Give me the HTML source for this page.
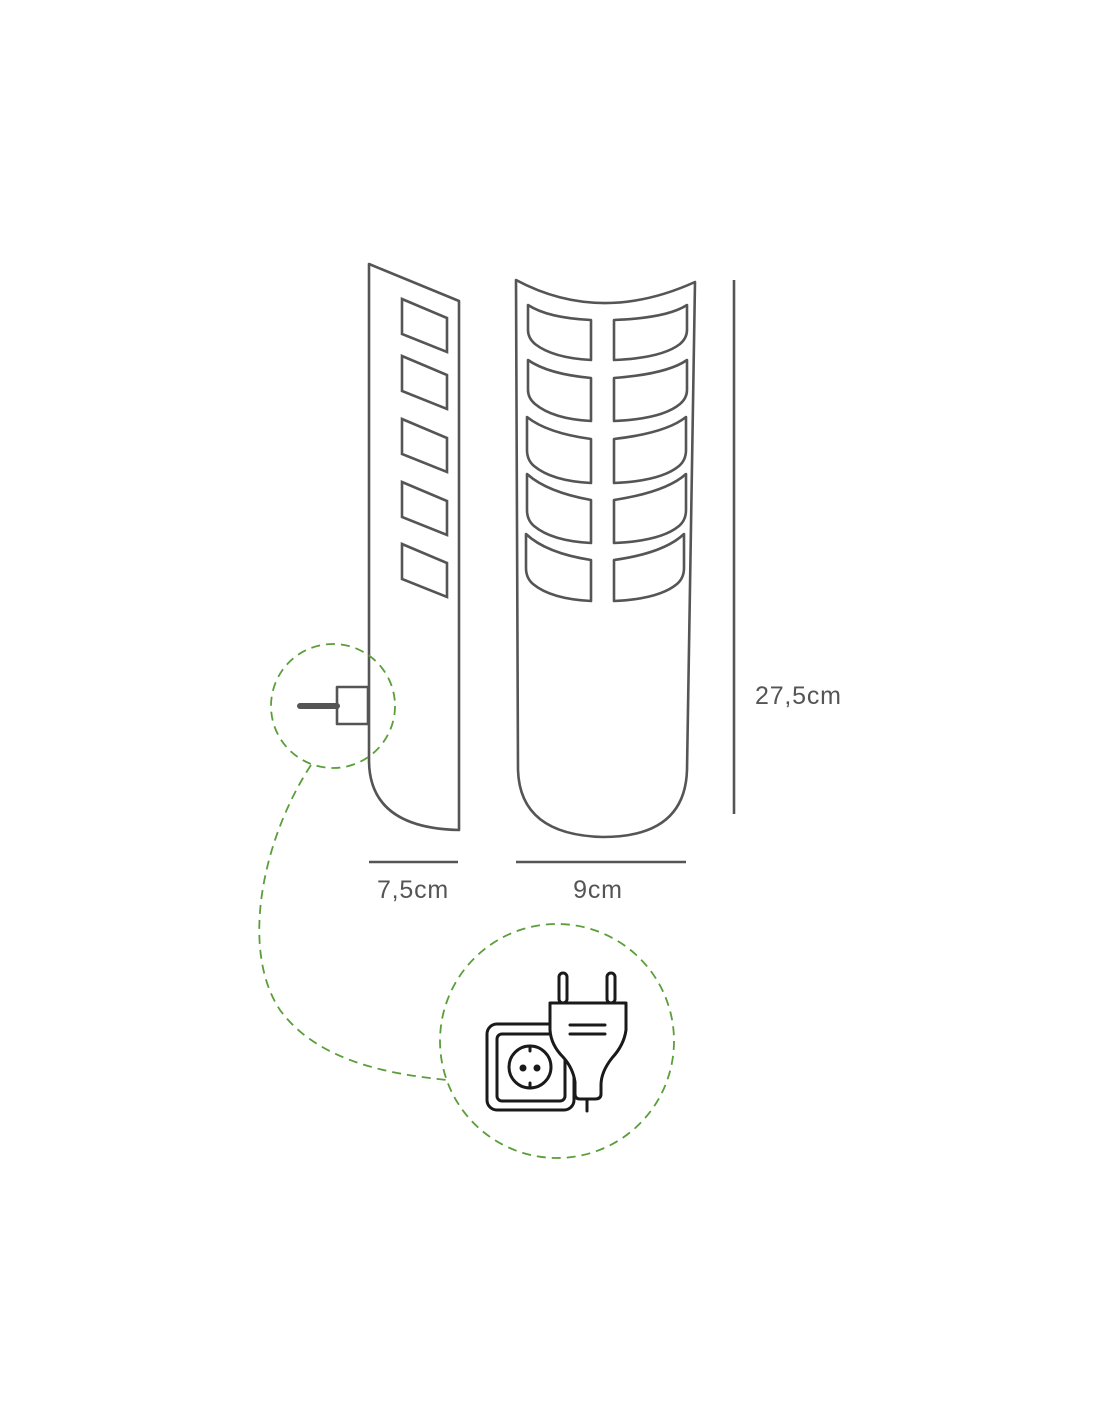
<!DOCTYPE html>
<html><head><meta charset="utf-8"><style>
html,body{margin:0;padding:0;background:#fff;}
svg{display:block}
text{font-family:"Liberation Sans",sans-serif;fill:#555;font-size:25px;letter-spacing:0.8px}
</style></head><body>
<svg width="1100" height="1422" viewBox="0 0 1100 1422" xmlns="http://www.w3.org/2000/svg">
<defs>
<path id="sw" d="M402,299 L447,318 L447,352 L402,334 Z" fill="none" stroke="#555" stroke-width="2.6"/>
</defs>
<g fill="none" stroke="#555" stroke-width="2.6" stroke-linejoin="round">
<path d="M369,264 L459,301 L459,830 Q369,828 369,760 Z"/>
<path d="M516,280 Q600,325 695,282 L687,770 Q685,837 603,837 Q520,835 518,770 Z"/>
<rect x="337" y="687" width="31" height="37" fill="#fff"/>
<line x1="734" y1="280" x2="734" y2="814"/>
<line x1="369" y1="862" x2="458" y2="862"/>
<line x1="516" y1="862" x2="686" y2="862"/>
<!-- windows -->
<path d="M528,305 Q548,318 591,320 L591,360 Q553,358 535,344 Q528,338 528,330 Z"/>
<path d="M687,305 Q667,318 614,320 L614,360 Q662,358 680,344 Q687,338 687,330 Z"/>
<path d="M528,360 Q548,374 591,378 L591,421 Q553,419 535,404 Q528,398 528,390 Z"/>
<path d="M687,360 Q667,374 614,378 L614,421 Q662,419 680,404 Q687,398 687,390 Z"/>
<path d="M527,417 Q547,433 591,439 L591,483 Q552,481 534,466 Q527,460 527,450 Z"/>
<path d="M686,417 Q666,433 614,439 L614,483 Q661,481 679,466 Q686,460 686,450 Z"/>
<path d="M527,474 Q547,492 591,500 L591,543 Q552,541 534,526 Q527,520 527,510 Z"/>
<path d="M686,474 Q666,492 614,500 L614,543 Q661,541 679,526 Q686,520 686,510 Z"/>
<path d="M526,534 Q546,553 591,560 L591,601 Q551,599 533,584 Q526,578 526,568 Z"/>
<path d="M684,534 Q664,553 614,560 L614,601 Q659,599 677,584 Q684,578 684,568 Z"/>
</g>
<line x1="300" y1="706" x2="337" y2="706" stroke="#555" stroke-width="6" stroke-linecap="round"/>
<use href="#sw"/><use href="#sw" y="57"/><use href="#sw" y="120"/><use href="#sw" y="183"/><use href="#sw" y="245"/>
<g fill="none" stroke="#5a9e3a" stroke-width="1.8" stroke-dasharray="9,6">
<circle cx="333" cy="706" r="62"/>
<circle cx="557" cy="1041" r="117"/>
<path d="M311,765 C262,840 240,950 280,1010 C320,1065 400,1075 447,1080"/>
</g>
<text x="755" y="704">27,5cm</text>
<text x="413" y="898" text-anchor="middle">7,5cm</text>
<text x="598" y="898" text-anchor="middle">9cm</text>
<g fill="none" stroke="#1a1a1a" stroke-width="3" stroke-linejoin="round" stroke-linecap="round">
<rect x="487" y="1024" width="87" height="86" rx="10"/>
<rect x="497" y="1034" width="68" height="67" rx="5"/>
<circle cx="530" cy="1067" r="21"/>
<line x1="530" y1="1046" x2="530" y2="1051"/>
<line x1="530" y1="1083" x2="530" y2="1088"/>
<rect x="559" y="973" width="8" height="30" rx="4" fill="#fff"/>
<rect x="607" y="973" width="8" height="30" rx="4" fill="#fff"/>
<path d="M550,1003 L626,1003 L626,1030 Q624,1045 612,1058 Q601,1072 601,1085 L601,1094 Q601,1099 595,1099 L580,1099 Q575,1099 575,1094 L575,1082 Q573,1068 563,1057 Q551,1045 550,1030 Z" fill="#fff"/>
<line x1="570" y1="1025" x2="605" y2="1025"/>
<line x1="570" y1="1034" x2="605" y2="1034"/>
<line x1="587" y1="1099" x2="587" y2="1111"/>
</g>
<circle cx="523" cy="1068" r="3.5" fill="#1a1a1a"/>
<circle cx="537" cy="1068" r="3.5" fill="#1a1a1a"/>
</svg>
</body></html>
